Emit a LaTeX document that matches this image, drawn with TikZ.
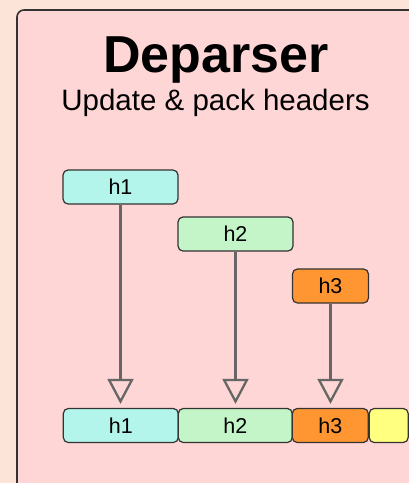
\documentclass[tikz,border=0pt]{standalone}
\usepackage{fontspec}
\setmainfont{Liberation Sans}
\usetikzlibrary{arrows.meta}

\definecolor{pagebg}{RGB}{253,228,216}
\definecolor{panelfill}{RGB}{255,214,214}
\definecolor{edge}{RGB}{51,51,51}
\definecolor{hone}{RGB}{180,245,235}
\definecolor{htwo}{RGB}{195,245,200}
\definecolor{hthree}{RGB}{255,150,50}
\definecolor{hpad}{RGB}{255,255,128}
\definecolor{pushgray}{RGB}{102,102,102}

\tikzset{
  panel/.style={draw=edge, line width=1.6pt, fill=panelfill, rounded corners=7pt},
  hdr/.style={draw=edge, line width=1.2pt, rounded corners=5pt, minimum height=34pt,
    inner sep=0pt, font=\fontsize{21.5}{25}\selectfont},
  pushline/.style={draw=pushgray, line width=2.3pt, shorten >=4pt,
    -{Triangle[open, length=25pt, width=26pt, line width=2.3pt]}}
}

\begin{document}
\begin{tikzpicture}[x=1pt,y=-1pt]
  \useasboundingbox (0,0) rectangle (409,483);
  \clip (0,0) rectangle (409,483);
  \fill[pagebg] (0,0) rectangle (409,483);
  \path[panel] (17,10) rectangle (430,510);

  % title block
  \node[anchor=base, font=\fontsize{52}{60}\selectfont\bfseries] (title) at (216,72) {Deparser};
  \node[anchor=base, font=\fontsize{29.5}{34}\selectfont] (subtitle) at (215.5,110) {Update \& pack headers};

  % headers before packing
  \node[hdr, fill=hone, minimum width=115pt] (t1) at (120.5,187) {h1};
  \node[hdr, fill=htwo, minimum width=115pt] (t2) at (235.5,234) {h2};
  \node[hdr, fill=hthree, minimum width=76pt] (t3) at (330.5,286) {h3};

  % packed header stack
  \node[hdr, fill=hone, minimum width=115pt] (b1) at (120.8,425.5) {h1};
  \node[hdr, fill=htwo, minimum width=114pt] (b2) at (235.3,425.5) {h2};
  \node[hdr, fill=hthree, minimum width=76pt] (b3) at (330.3,425.5) {h3};
  \node[hdr, fill=hpad, minimum width=39pt] (b4) at (388.7,425.5) {};

  % placement arrows
  \draw[pushline] (t1.south) -- (t1.south |- b1.north);
  \draw[pushline] (t2.south) -- (t2.south |- b2.north);
  \draw[pushline] (t3.south) -- (t3.south |- b3.north);
\end{tikzpicture}
\end{document}
